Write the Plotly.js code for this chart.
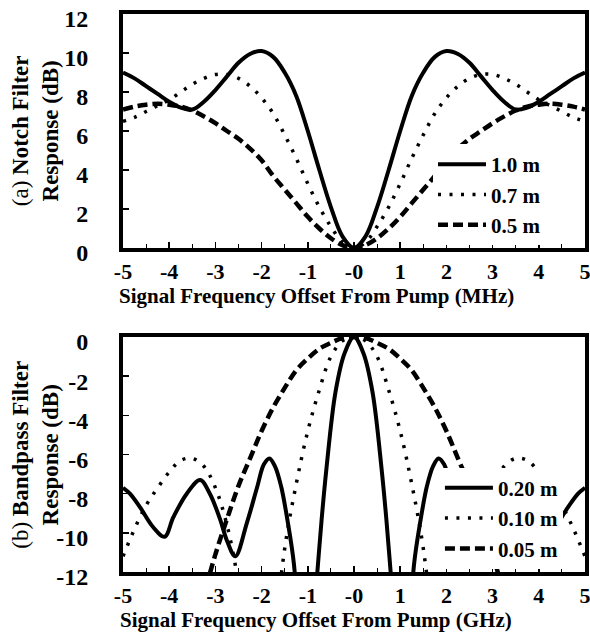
<!DOCTYPE html>
<html>
<head>
<meta charset="utf-8">
<script src="https://cdn.plot.ly/plotly-3.0.1.min.js"></script>
<style>html,body{margin:0;padding:0;background:#fff;}#chart{width:590px;height:634px;}</style>
</head>
<body>
<div id="chart"></div>
<script>
// ---------- Data ----------
// Panel (a): notch filter response, x in MHz
const notchX = [-5,-4.75,-4.5,-4.25,-4,-3.75,-3.5,-3.25,-3,-2.75,-2.5,-2.25,-2,-1.75,-1.5,-1.25,-1,-0.75,-0.5,-0.25,0,0.25,0.5,0.75,1,1.25,1.5,1.75,2,2.25,2.5,2.75,3,3.25,3.5,3.75,4,4.25,4.5,4.75,5];
const notch10 = [9.0,8.7,8.3,7.9,7.5,7.2,7.1,7.5,8.1,8.8,9.5,9.95,10.1,9.8,9.0,7.8,6.0,4.0,2.1,0.6,0,0.6,2.1,4.0,6.0,7.8,9.0,9.8,10.1,9.95,9.5,8.8,8.1,7.5,7.1,7.2,7.5,7.9,8.3,8.7,9.0];
const notch07 = [6.5,6.7,7.0,7.3,7.6,8.0,8.4,8.7,8.9,8.9,8.7,8.3,7.7,6.9,5.8,4.6,3.3,2.1,1.1,0.3,0,0.3,1.1,2.1,3.3,4.6,5.8,6.9,7.7,8.3,8.7,8.9,8.9,8.7,8.4,8.0,7.6,7.3,7.0,6.7,6.5];
const notch05 = [7.1,7.25,7.35,7.4,7.35,7.25,7.05,6.75,6.4,6.0,5.6,5.1,4.5,3.7,3.0,2.3,1.6,1.0,0.5,0.15,0,0.15,0.5,1.0,1.6,2.3,3.0,3.7,4.5,5.1,5.6,6.0,6.4,6.75,7.05,7.25,7.35,7.4,7.35,7.25,7.1];
const notchNames = ['1.0 m','0.7 m','0.5 m'];

// Panel (b): bandpass filter response, x in GHz
const bpX20 = [-5,-4.85,-4.63,-4.35,-4.1,-3.91,-3.62,-3.33,-3.12,-2.9,-2.75,-2.57,-2.32,-2.1,-1.95,-1.83,-1.71,-1.58,-1.43,-1.3,-1.2,-1.05,-0.9,-0.8,-0.7,-0.6,-0.4,-0.2,0,0.2,0.4,0.6,0.7,0.8,0.9,1.05,1.2,1.3,1.43,1.58,1.71,1.83,1.95,2.1,2.32,2.57,2.75,2.9,3.12,3.33,3.62,3.91,4.1,4.35,4.63,4.85,5];
const bp20 = [-7.7,-8.0,-8.7,-9.7,-10.2,-9.2,-8.0,-7.3,-8.0,-9.3,-10.4,-11.2,-9.5,-7.7,-6.5,-6.2,-6.6,-7.6,-9.5,-11.6,-15,-20,-15,-12.2,-9.3,-6.8,-2.8,-0.8,0,-0.8,-2.8,-6.8,-9.3,-12.2,-15,-20,-15,-11.6,-9.5,-7.6,-6.6,-6.2,-6.5,-7.7,-9.5,-11.2,-10.4,-9.3,-8.0,-7.3,-8.0,-9.2,-10.2,-9.7,-8.7,-8.0,-7.7];
const bpX = [-5,-4.75,-4.5,-4.25,-4,-3.75,-3.5,-3.25,-3,-2.75,-2.5,-2.25,-2,-1.75,-1.5,-1.25,-1,-0.75,-0.5,-0.25,0,0.25,0.5,0.75,1,1.25,1.5,1.75,2,2.25,2.5,2.75,3,3.25,3.5,3.75,4,4.25,4.5,4.75,5];
const bp10 = [-11.2,-9.8,-8.6,-7.7,-6.9,-6.3,-6.2,-6.6,-7.7,-9.6,-12.6,-17,-22,-16,-10.8,-7.5,-4.8,-2.7,-1.0,-0.2,0,-0.2,-1.0,-2.7,-4.8,-7.5,-10.8,-16,-22,-17,-12.6,-9.6,-7.7,-6.6,-6.2,-6.3,-6.9,-7.7,-8.6,-9.8,-11.2];
const bp05 = [null,null,null,null,null,-18,-15.5,-13.2,-11.1,-9.3,-7.6,-6.2,-4.8,-3.6,-2.6,-1.7,-1.1,-0.6,-0.3,-0.05,0,-0.05,-0.3,-0.6,-1.1,-1.7,-2.6,-3.6,-4.8,-6.2,-7.6,-9.3,-11.1,-13.2,-15.5,-18,null,null,null,null,null];
const bpNames = ['0.20 m','0.10 m','0.05 m'];

const xTickVals = [-5,-4,-3,-2,-1,0,1,2,3,4,5];
const xTickText = ['-5','-4','-3','-2','-1','-0','1','2','3','4','5'];
const yTickA = [0,2,4,6,8,10,12];
const yTickB = [-12,-10,-8,-6,-4,-2,0];

// ---------- Styling ----------
const FONT = 'Liberation Serif';
const bold = s => '<b>' + s + '</b>';
const solid = {color:'#000', width:4, shape:'spline', dash:'solid'};
const dotted = {color:'#000', width:3.5, shape:'spline', dash:'3px,8.5px'};
const dashed = {color:'#000', width:4.5, shape:'spline', dash:'10px,5px'};

const traces = [
  {x:notchX, y:notch10, name:bold(notchNames[0]), mode:'lines', line:solid, xaxis:'x', yaxis:'y', legend:'legend'},
  {x:notchX, y:notch07, name:bold(notchNames[1]), mode:'lines', line:dotted, xaxis:'x', yaxis:'y', legend:'legend'},
  {x:notchX, y:notch05, name:bold(notchNames[2]), mode:'lines', line:dashed, xaxis:'x', yaxis:'y', legend:'legend'},
  {x:bpX20, y:bp20, name:bold(bpNames[0]), mode:'lines', line:solid, xaxis:'x2', yaxis:'y2', legend:'legend2'},
  {x:bpX, y:bp10, name:bold(bpNames[1]), mode:'lines', line:dotted, xaxis:'x2', yaxis:'y2', legend:'legend2'},
  {x:bpX, y:bp05, name:bold(bpNames[2]), mode:'lines', line:dashed, xaxis:'x2', yaxis:'y2', legend:'legend2'}
];

function xAxis(anchor){
  return {anchor:anchor, range:[-5,5], tickmode:'array', tickvals:xTickVals, ticktext:xTickText.map(bold),
    showline:true, linewidth:4, linecolor:'#000', mirror:true, showgrid:false, zeroline:false,
    ticks:'inside', ticklen:6, tickwidth:1.5, tickcolor:'#000', tickfont:{family:FONT, size:22, color:'#000'},
    ticklabelstandoff:1, ticklabeloverflow:'allow',
    minor:{ticks:'inside', ticklen:4, tickwidth:1, tickcolor:'#000', dtick:0.5, tick0:0.5}};
}
function yAxis(anchor, dom, rng, vals){
  return {anchor:anchor, domain:dom, range:rng, tickmode:'array', tickvals:vals, ticktext:vals.map(v => bold(String(v))),
    showline:true, linewidth:4, linecolor:'#000', mirror:true, showgrid:false, zeroline:false,
    ticks:'inside', ticklen:6, tickwidth:1.5, tickcolor:'#000', tickfont:{family:FONT, size:24, color:'#000'},
    ticklabelstandoff:26, ticklabelshift:5, ticklabeloverflow:'allow'};
}
const legendBase = {bgcolor:'#fff', borderwidth:0, font:{family:FONT, size:21, color:'#000'},
  xanchor:'left', yanchor:'top', itemwidth:48, tracegroupgap:0, traceorder:'normal'};

const annFont = {family:FONT, size:21, color:'#000'};
const layout = {
  width:590, height:634, showlegend:true,
  margin:{l:123, r:5, t:14, b:62},
  paper_bgcolor:'#fff', plot_bgcolor:'#fff',
  font:{family:FONT, color:'#000'},
  xaxis: Object.assign(xAxis('y'), {domain:[0,1]}),
  yaxis: yAxis('x', [0.5806,1], [0,12], yTickA),
  xaxis2: Object.assign(xAxis('y2'), {domain:[0,1]}),
  yaxis2: yAxis('x2', [0,0.4211], [-12,0], yTickB),
  legend: Object.assign({}, legendBase, {x:0.671, y:0.767}),
  legend2: Object.assign({}, legendBase, {x:0.686, y:0.187}),
  annotations:[
    {xref:'paper', yref:'paper', x:0.418, y:0.4946, text:bold('Signal Frequency Offset From Pump (MHz)'), showarrow:false, font:annFont, xanchor:'center', yanchor:'middle'},
    {xref:'paper', yref:'paper', x:0.418, y:-0.086, text:bold('Signal Frequency Offset From Pump (GHz)'), showarrow:false, font:annFont, xanchor:'center', yanchor:'middle'},
    {xref:'paper', yref:'paper', x:-0.19, y:0.7903, text:'(a) ' + bold('Notch Filter') + '<br>' + bold('Response (dB)'), showarrow:false, font:{family:FONT, size:23, color:'#000'}, textangle:-90, xanchor:'center', yanchor:'middle'},
    {xref:'paper', yref:'paper', x:-0.19, y:0.2106, text:'(b) ' + bold('Bandpass Filter') + '<br>' + bold('Response (dB)'), showarrow:false, font:{family:FONT, size:23, color:'#000'}, textangle:-90, xanchor:'center', yanchor:'middle'}
  ]
};

Plotly.newPlot('chart', traces, layout, {displayModeBar:false, staticPlot:true});
</script>
</body>
</html>
